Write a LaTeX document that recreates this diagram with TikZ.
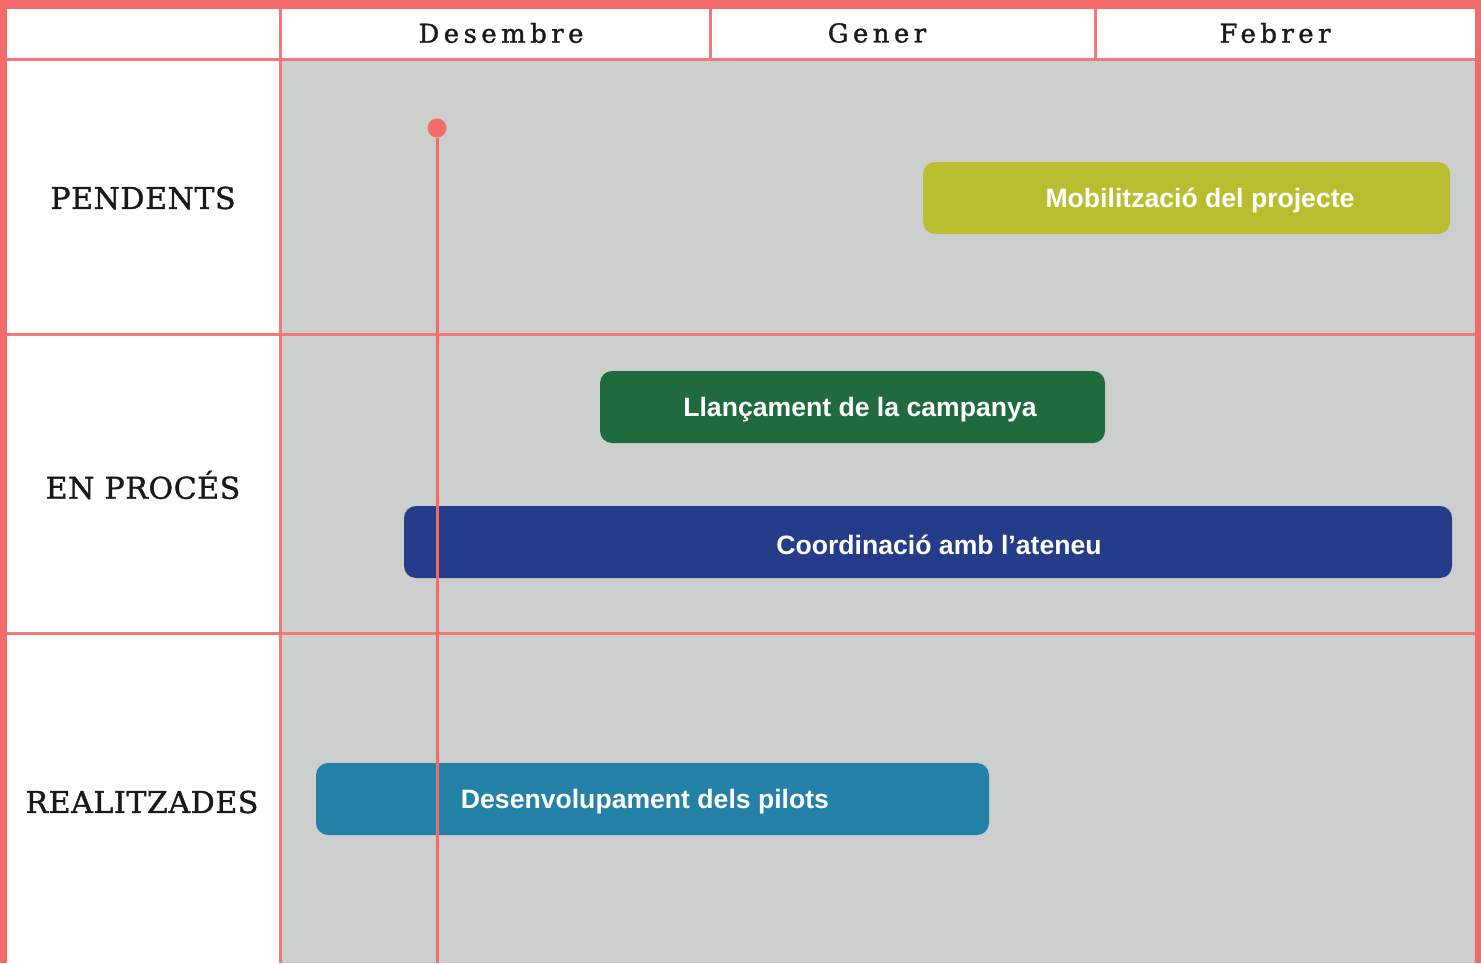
\documentclass[tikz,border=0pt]{standalone}
\usepackage{fontspec}
\newfontfamily\barfont{Liberation Sans}
\newfontfamily\monthfont[LetterSpace=17, FakeBold=1.2]{DejaVu Serif}
\newfontfamily\rowfont[LetterSpace=2, FakeBold=1.2]{DejaVu Serif}

\definecolor{bordred}{HTML}{F36A6A}
\definecolor{gridred}{HTML}{F47878}
\definecolor{panelgrey}{HTML}{CDCFCE}
\definecolor{barolive}{HTML}{B9BD30}
\definecolor{bargreen}{HTML}{1F6B3D}
\definecolor{barnavy}{HTML}{253C8B}
\definecolor{barteal}{HTML}{2481A8}

\tikzset{
  gridline/.style={draw=gridred, line width=1.5pt},
  month/.style={font=\monthfont\fontsize{13}{15}\selectfont, text=black!90},
  rowlabel/.style={font=\rowfont\fontsize{15}{17}\selectfont, text=black!90},
  bar/.style={rounded corners=6pt, inner sep=0pt, minimum height=36pt},
  bartext/.style={font=\barfont\bfseries\fontsize{13.3}{15}\selectfont, text=white, inner sep=0pt}
}

\begin{document}
\begin{tikzpicture}[x=0.5pt, y=-0.5pt]

\useasboundingbox (0,0) rectangle (1481,963);

% frame and panels
\path[fill=bordred] (0,0) rectangle (1481,963);
\path[fill=white] (7,9) rectangle (1475,963);
\path[fill=panelgrey] (281,61) rectangle (1475,963);

% grid
\draw[gridline] (280,9) -- (280,963);
\draw[gridline] (710,9) -- (710,60);
\draw[gridline] (1095,9) -- (1095,60);
\draw[gridline] (7,60) -- (1475,60);
\draw[gridline] (7,334) -- (1475,334);
\draw[gridline] (7,633) -- (1475,633);

% months
\node[month] (desembre) at (501,33) {Desembre};
\node[month] (gener) at (877,33) {Gener};
\node[month] (febrer) at (1275,33) {Febrer};

% rows
\node[rowlabel] (pendents) at (143,198) {PENDENTS};
\node[rowlabel] (enproces) at (143,485) {EN PROCÉS};
\node[rowlabel] (realitzades) at (142,802) {REALITZADES};

% tasks
\node[bar, fill=barolive, minimum width=263.5pt] (mobil) at (1186.5,198) {};
\node[bartext] (mobiltext) at (1200,201) {Mobilització del projecte};

\node[bar, fill=bargreen, minimum width=252.5pt] (campanya) at (852.5,407) {};
\node[bartext] (campanyatext) at (860,410) {Llançament de la campanya};

\node[bar, fill=barnavy, minimum width=524pt] (ateneu) at (928,542) {};
\node[bartext] (ateneutext) at (939,545) {Coordinació amb l’ateneu};

\node[bar, fill=barteal, minimum width=336.5pt] (pilots) at (652.5,799) {};
\node[bartext] (pilotstext) at (645,802) {Desenvolupament dels pilots};

% today
\node[circle, fill=bordred, inner sep=0pt, minimum size=9.5pt] (avui) at (437,128) {};
\coordinate (avuifi) at (437,963);
\draw[bordred, line width=1.5pt] (avui) -- (avuifi);

\end{tikzpicture}
\end{document}
